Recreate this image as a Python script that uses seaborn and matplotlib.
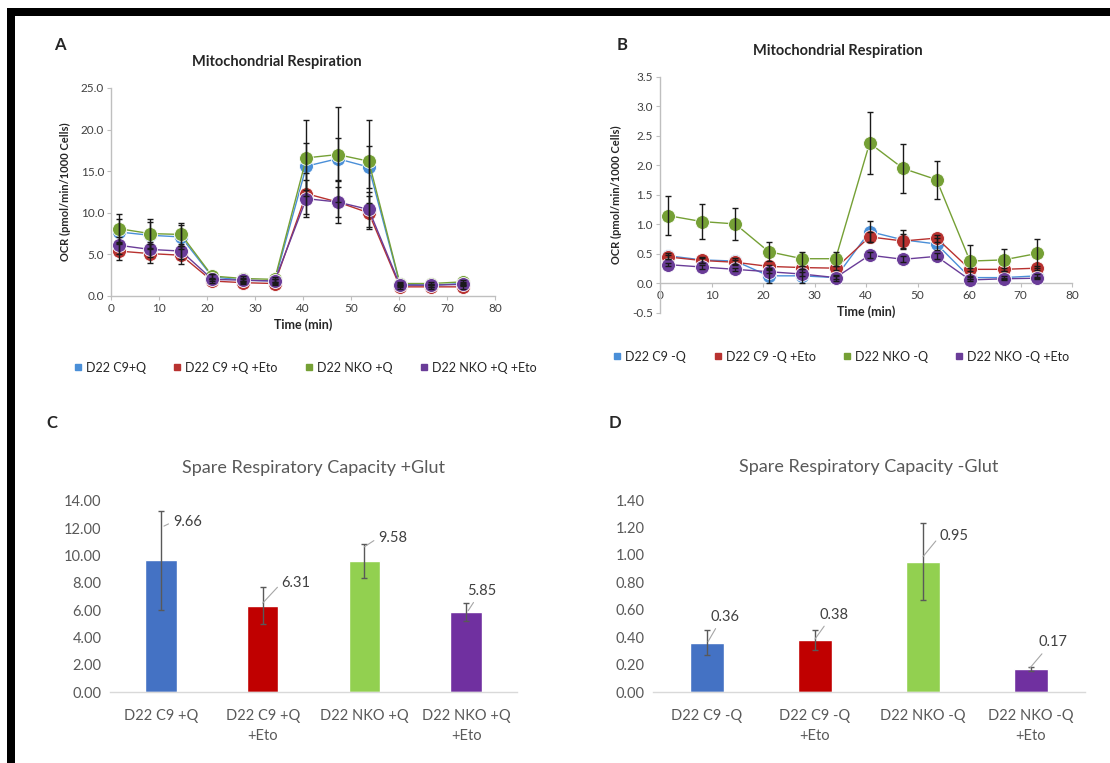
import numpy as np
import pandas as pd
import matplotlib
matplotlib.use("Agg")
import matplotlib.pyplot as plt
from matplotlib.lines import Line2D
from matplotlib.patches import Rectangle
import seaborn as sns

# ── Data ──────────────────────────────────────────────────────────────────────
time_min = [1.6, 8.1, 14.6, 21.1, 27.6, 34.1, 40.7, 47.2, 53.7, 60.2, 66.7, 73.3]

groups_a = ["D22 C9+Q", "D22 C9 +Q +Eto", "D22 NKO +Q", "D22 NKO +Q +Eto"]
ocr_a = {
    "D22 C9+Q":        [7.7, 7.3, 7.1, 2.3, 1.9, 1.8, 15.6, 16.5, 15.5, 1.4, 1.3, 1.5],
    "D22 C9 +Q +Eto":  [5.4, 5.1, 4.9, 1.8, 1.6, 1.5, 12.3, 11.3, 10.0, 1.1, 1.1, 1.1],
    "D22 NKO +Q":      [8.1, 7.5, 7.4, 2.4, 2.1, 2.0, 16.6, 17.0, 16.2, 1.5, 1.5, 1.7],
    "D22 NKO +Q +Eto": [6.1, 5.6, 5.4, 2.0, 1.9, 1.8, 11.7, 11.3, 10.4, 1.3, 1.3, 1.4],
}
err_a = {
    "D22 C9+Q":        [1.5, 1.6, 1.4, 0.3, 0.3, 0.3, 2.8, 2.5, 2.5, 0.2, 0.2, 0.2],
    "D22 C9 +Q +Eto":  [1.1, 1.1, 1.1, 0.2, 0.2, 0.2, 2.5, 2.5, 2.0, 0.2, 0.2, 0.2],
    "D22 NKO +Q":      [1.7, 1.7, 1.4, 0.3, 0.3, 0.3, 4.6, 5.7, 5.0, 0.2, 0.2, 0.2],
    "D22 NKO +Q +Eto": [1.0, 0.9, 0.9, 0.2, 0.2, 0.2, 2.2, 1.8, 2.1, 0.2, 0.2, 0.2],
}

groups_b = ["D22 C9 -Q", "D22 C9 -Q +Eto", "D22 NKO -Q", "D22 NKO -Q +Eto"]
ocr_b = {
    "D22 C9 -Q":       [0.47, 0.40, 0.38, 0.13, 0.13, 0.10, 0.88, 0.74, 0.67, 0.10, 0.10, 0.13],
    "D22 C9 -Q +Eto":  [0.45, 0.39, 0.36, 0.29, 0.27, 0.26, 0.79, 0.72, 0.77, 0.24, 0.24, 0.26],
    "D22 NKO -Q":      [1.15, 1.05, 1.01, 0.54, 0.42, 0.42, 2.38, 1.95, 1.76, 0.38, 0.40, 0.51],
    "D22 NKO -Q +Eto": [0.32, 0.28, 0.24, 0.20, 0.16, 0.10, 0.48, 0.41, 0.46, 0.06, 0.08, 0.09],
}
err_b = {
    "D22 C9 -Q":       [0.05, 0.05, 0.05, 0.12, 0.12, 0.05, 0.18, 0.16, 0.10, 0.03, 0.03, 0.03],
    "D22 C9 -Q +Eto":  [0.04, 0.04, 0.04, 0.03, 0.03, 0.03, 0.08, 0.12, 0.06, 0.03, 0.03, 0.03],
    "D22 NKO -Q":      [0.33, 0.30, 0.27, 0.16, 0.12, 0.12, 0.53, 0.41, 0.32, 0.27, 0.18, 0.25],
    "D22 NKO -Q +Eto": [0.03, 0.03, 0.03, 0.03, 0.03, 0.03, 0.05, 0.05, 0.05, 0.02, 0.02, 0.02],
}

cats_c = ["D22 C9 +Q", "D22 C9 +Q\n+Eto", "D22 NKO +Q", "D22 NKO +Q\n+Eto"]
src_c = [9.66, 6.31, 9.58, 5.85]
src_c_err = [3.62, 1.35, 1.25, 0.68]

cats_d = ["D22 C9 -Q", "D22 C9 -Q\n+Eto", "D22 NKO -Q", "D22 NKO -Q\n+Eto"]
src_d = [0.36, 0.38, 0.95, 0.17]
src_d_err = [0.09, 0.075, 0.28, 0.015]

# ── Styling ───────────────────────────────────────────────────────────────────
line_colors = ["#4A8FD8", "#B83230", "#75A035", "#6A3C98"]
bar_colors = ["#4472C4", "#C00000", "#92D050", "#7030A0"]
GRAY_TXT = "#595959"

sns.set_theme(style="white")
plt.rcParams["font.family"] = ["Lato", "DejaVu Sans"]

fig = plt.figure(figsize=(11.10, 7.63), dpi=100)
W, H = 1110, 763


def px_axes(x0, y_top, x1, y_bot):
    return fig.add_axes([x0 / W, 1 - y_bot / H, (x1 - x0) / W, (y_bot - y_top) / H])


def long_frame(groups, vals):
    rows = []
    for g in groups:
        for t, v in zip(time_min, vals[g]):
            rows.append({"time": t, "ocr": v, "group": g})
    return pd.DataFrame(rows)


def respiration_panel(ax, groups, vals, errs, ylim, yticks):
    df = long_frame(groups, vals)
    sns.lineplot(data=df, x="time", y="ocr", hue="group", hue_order=groups,
                 palette=line_colors, marker="o", markersize=10, linewidth=1.0,
                 markeredgewidth=0.6, markeredgecolor="white", legend=False,
                 ax=ax, zorder=3)
    for g in groups:
        ax.errorbar(time_min, vals[g], yerr=errs[g], fmt="none", ecolor="#1a1a1a",
                    elinewidth=1.0, capsize=2.5, capthick=1.0, zorder=4)
    ax.set_xlim(0, 80)
    ax.set_ylim(*ylim)
    ax.set_xticks(range(0, 81, 10))
    ax.set_yticks(yticks)
    ax.set_yticklabels([f"{v:.1f}" for v in yticks])
    for s in ["top", "right"]:
        ax.spines[s].set_visible(False)
    for s in ["left", "bottom"]:
        ax.spines[s].set_color("#BFBFBF")
        ax.spines[s].set_linewidth(1.0)
    ax.tick_params(axis="both", length=3, width=0.8, color="#BFBFBF",
                   labelsize=8.5, labelcolor="#404040", direction="out", pad=2)
    ax.tick_params(axis="both", bottom=True, left=True)
    ax.set_xlabel("Time (min)", fontsize=9, fontweight="bold", color="#262626", labelpad=3)
    ax.set_ylabel("OCR (pmol/min/1000 Cells)", fontsize=8, fontweight="bold",
                  color="#262626", labelpad=7)


def legend_row(ax, groups, anchor):
    handles = [Line2D([0], [0], marker="s", linestyle="none", markersize=5,
                      markerfacecolor=c, markeredgecolor=c) for c in line_colors]
    ax.legend(handles, groups, loc="center left", bbox_to_anchor=anchor,
              ncol=4, frameon=False, fontsize=9, handlelength=0.6, handletextpad=0.35,
              columnspacing=2.2, labelcolor="#262626", borderaxespad=0)


def spare_panel(ax, cats, vals, errs, ymax, title, labels_cfg):
    sns.barplot(x=cats, y=vals, hue=cats, palette=bar_colors, legend=False,
                width=0.31, saturation=1, ax=ax, zorder=2)
    ax.errorbar(range(len(vals)), vals, yerr=errs, fmt="none", ecolor="#595959",
                elinewidth=1.0, capsize=2.5, capthick=1.0, zorder=3)
    ax.set_xlim(-0.5, 3.5)
    ax.set_ylim(0, ymax)
    step = ymax / 7
    ticks = [step * i for i in range(8)]
    ax.set_yticks(ticks)
    ax.set_yticklabels([f"{t:.2f}" for t in ticks])
    for s in ["top", "right", "left"]:
        ax.spines[s].set_visible(False)
    ax.spines["bottom"].set_color("#D9D9D9")
    ax.spines["bottom"].set_linewidth(1.0)
    ax.tick_params(axis="both", length=0, labelsize=10.5, labelcolor=GRAY_TXT, pad=6)
    ax.tick_params(axis="x", pad=12)
    for lab in ax.get_xticklabels():
        lab.set_linespacing(1.6)
    ax.set_title(title, fontsize=13, color=GRAY_TXT, pad=20)
    for i, (v, cfg) in enumerate(zip(vals, labels_cfg)):
        (sx, sy), (tx, ty), ha, rel = cfg
        ax.annotate(f"{v:.2f}", xy=(i + sx, v + sy), xytext=(i + tx, v + ty),
                    ha=ha, va="center", fontsize=10.5, color="#404040",
                    arrowprops=dict(arrowstyle="-", color="#A6A6A6", lw=0.8,
                                    shrinkA=1, shrinkB=0, relpos=rel))


# ── Panel A ───────────────────────────────────────────────────────────────────
ax_a = px_axes(111, 88, 495, 296)
respiration_panel(ax_a, groups_a, ocr_a, err_a, (0, 25), [0, 5, 10, 15, 20, 25])
legend_row(ax_a, groups_a, (-0.11, -0.345))
fig.text(277 / W, 1 - 62 / H, "Mitochondrial Respiration", ha="center", va="center",
         fontsize=10.5, fontweight="bold", color="#262626")
fig.text(60 / W, 1 - 45 / H, "A", ha="center", va="center", fontsize=12, fontweight="bold")

# ── Panel B ───────────────────────────────────────────────────────────────────
ax_b = px_axes(660, 77, 1072, 313)
respiration_panel(ax_b, groups_b, ocr_b, err_b, (-0.5, 3.5),
                  [-0.5, 0, 0.5, 1.0, 1.5, 2.0, 2.5, 3.0, 3.5])
ax_b.spines["bottom"].set_position(("data", 0))
legend_row(ax_b, groups_b, (-0.125, -0.185))
fig.text(838 / W, 1 - 51 / H, "Mitochondrial Respiration", ha="center", va="center",
         fontsize=10.5, fontweight="bold", color="#262626")
fig.text(622 / W, 1 - 45 / H, "B", ha="center", va="center", fontsize=12, fontweight="bold")

# ── Panel C ───────────────────────────────────────────────────────────────────
ax_c = px_axes(110, 501, 517, 692)
labels_c = [((0.03, 2.5), (0.12, 2.82), "left", (0, 0.5)),
            ((0.0, 0.2), (0.187, 1.70), "left", (0, 0.5)),
            ((0.0, 1.06), (0.137, 1.73), "left", (0, 0.5)),
            ((0.02, 0.11), (0.153, 1.55), "center", (0.35, 0.1))]
spare_panel(ax_c, cats_c, src_c, src_c_err, 14, "Spare Respiratory Capacity +Glut", labels_c)
fig.text(52 / W, 1 - 423 / H, "C", ha="center", va="center", fontsize=12, fontweight="bold")

# ── Panel D ───────────────────────────────────────────────────────────────────
ax_d = px_axes(653, 500, 1085, 692)
labels_d = [((0.01, 0.008), (0.165, 0.186), "center", (0.3, 0.1)),
            ((0.0, 0.006), (0.177, 0.183), "center", (0.3, 0.1)),
            ((0.0, 0.037), (0.157, 0.188), "left", (0, 0.5)),
            ((-0.01, 0.005), (0.20, 0.191), "center", (0.3, 0.1))]
spare_panel(ax_d, cats_d, src_d, src_d_err, 1.4, "Spare Respiratory Capacity -Glut", labels_d)
fig.text(615 / W, 1 - 423 / H, "D", ha="center", va="center", fontsize=12, fontweight="bold")

# ── Black frame (top and left edges) ──────────────────────────────────────────
fig.patches.append(Rectangle((7 / W, 1 - 16 / H), (W - 7) / W, 8 / H, transform=fig.transFigure,
                             facecolor="black", edgecolor="none", zorder=10))
fig.patches.append(Rectangle((7 / W, 0), 8 / W, 1 - 8 / H, transform=fig.transFigure,
                             facecolor="black", edgecolor="none", zorder=10))

fig.savefig("out.png", dpi=100)
